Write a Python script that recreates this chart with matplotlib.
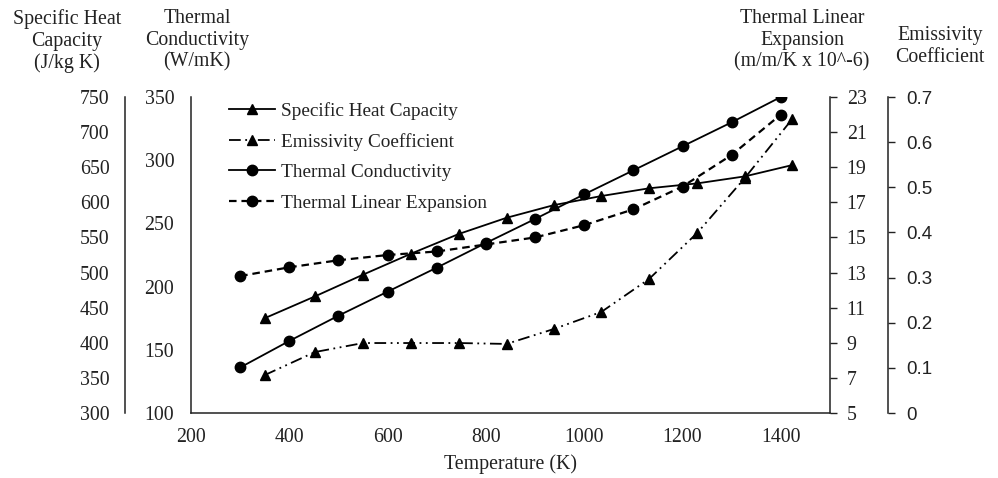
import matplotlib
matplotlib.use('Agg')
import matplotlib.pyplot as plt

# ---- data ----
temp_circle = [300, 400, 500, 600, 700, 800, 900, 1000, 1100, 1200, 1300, 1400]
conductivity = [136, 157, 177, 196, 215, 234.5, 253.5, 273, 292, 311, 330, 350]
expansion = [12.8, 13.3, 13.7, 14.0, 14.2, 14.6, 15.0, 15.7, 16.6, 17.9, 19.7, 22.0]
temp_tri = [350, 452, 550, 648, 745, 842, 938, 1035, 1132, 1230, 1327, 1423]
heat_capacity = [435, 466, 497, 527, 555, 578, 596, 609, 620, 627, 637, 653]
emissivity = [0.084, 0.135, 0.155, 0.155, 0.155, 0.153, 0.186, 0.224, 0.297, 0.399, 0.521, 0.651]

x_ticks = [200, 400, 600, 800, 1000, 1200, 1400]
k_ticks = [100, 150, 200, 250, 300, 350]
cp_ticks = [300, 350, 400, 450, 500, 550, 600, 650, 700, 750]
exp_ticks = [5, 7, 9, 11, 13, 15, 17, 19, 21, 23]
em_ticks = [0, 0.1, 0.2, 0.3, 0.4, 0.5, 0.6, 0.7]
em_labels = ['0', '0.1', '0.2', '0.3', '0.4', '0.5', '0.6', '0.7']

SERIF = 'Liberation Serif'
SANS = 'Liberation Sans'
FS = 14.3
TXT = '#222222'

fig = plt.figure(figsize=(9.98, 4.78), dpi=100)
W, H = 998, 478
left, right, bottom, top = 191 / W, 830 / W, 1 - 413 / H, 1 - 97 / H
ax = fig.add_axes([left, bottom, right - left, top - bottom])
ax_cp = ax.twinx()
ax_exp = ax.twinx()
ax_em = ax.twinx()

lw = 1.3
ms = 7.5

# main: conductivity
l_k, = ax.plot(temp_circle, conductivity, color='black', lw=lw, marker='o', ms=ms,
               label='Thermal Conductivity', zorder=3)
ax.set_xlim(200, 1500)
ax.set_ylim(100, 350)
ax.set_xticks(x_ticks)
ax.set_yticks(k_ticks)
for s in ['top', 'right']:
    ax.spines[s].set_visible(False)
ax.tick_params(axis='both', length=0, labelsize=FS, colors=TXT)
ax.tick_params(axis='y', pad=12)
ax.tick_params(axis='x', pad=11)
for t in ax.get_xticklabels() + ax.get_yticklabels():
    t.set_fontfamily(SERIF)
ax.set_xlabel('Temperature (K)', fontfamily=SERIF, fontsize=FS, color=TXT, labelpad=5)

# specific heat capacity (outer left)
l_cp, = ax_cp.plot(temp_tri, heat_capacity, color='black', lw=lw, marker='^', ms=ms,
                   label='Specific Heat Capacity', zorder=3)
ax_cp.set_ylim(300, 750)
ax_cp.set_yticks(cp_ticks)
ax_cp.yaxis.set_ticks_position('left')
ax_cp.yaxis.set_label_position('left')
ax_cp.spines['left'].set_position(('outward', 66 * 0.72))
for s in ['top', 'right', 'bottom']:
    ax_cp.spines[s].set_visible(False)
ax_cp.tick_params(axis='y', length=0, labelsize=FS, colors=TXT, pad=11)
for t in ax_cp.get_yticklabels():
    t.set_fontfamily(SERIF)

# thermal linear expansion (inner right)
l_exp, = ax_exp.plot(temp_circle, expansion, color='black', lw=1.6, marker='o', ms=ms,
                     ls=(0, (3.4, 2.2)), label='Thermal Linear Expansion', zorder=3)
ax_exp.set_ylim(5, 23)
ax_exp.set_yticks(exp_ticks)
for s in ['top', 'left', 'bottom']:
    ax_exp.spines[s].set_visible(False)
ax_exp.tick_params(axis='y', length=5, width=1, labelsize=FS, colors=TXT, pad=7)
for t in ax_exp.get_yticklabels():
    t.set_fontfamily(SERIF)

# emissivity (outer right)
l_em, = ax_em.plot(temp_tri, emissivity, color='black', lw=lw, marker='^', ms=ms,
                   ls=(0, (6.5, 2.5, 1, 2.5, 1, 2.5)), label='Emissivity Coefficient', zorder=3)
ax_em.set_ylim(0, 0.7)
ax_em.set_yticks(em_ticks)
ax_em.set_yticklabels(em_labels)
ax_em.spines['right'].set_position(('outward', 58 * 0.72))
for s in ['top', 'left', 'bottom']:
    ax_em.spines[s].set_visible(False)
ax_em.tick_params(axis='y', length=5, width=1, labelsize=13.5, colors=TXT, pad=8)
for t in ax_em.get_yticklabels():
    t.set_fontfamily(SANS)

for a in [ax, ax_cp, ax_exp, ax_em]:
    for s in a.spines.values():
        s.set_linewidth(1.1)
        s.set_color('#222222')

# legend
handles = [l_cp, l_em, l_k, l_exp]
leg = ax.legend(handles=handles, loc='upper left', bbox_to_anchor=(0.032, 1.04),
                frameon=False, handlelength=2.4, handletextpad=0.3, labelspacing=0.68,
                prop={'family': SERIF, 'size': 13.9})
for t in leg.get_texts():
    t.set_color(TXT)

# axis titles
def title(x, y, s):
    fig.text(x / W, 1 - y / H, s, ha='center', va='top', fontfamily=SERIF,
             fontsize=FS, color=TXT, linespacing=1.2)

title(67, 9, 'Specific Heat\nCapacity\n(J/kg K)')
title(197, 9, 'Thermal\nConductivity\n(W/mK)')
title(802, 9, 'Thermal Linear\nExpansion\n(m/m/K x 10^-6)')
title(940, 26, 'Emissivity\nCoefficient')

fig.savefig('out.png', dpi=100)
